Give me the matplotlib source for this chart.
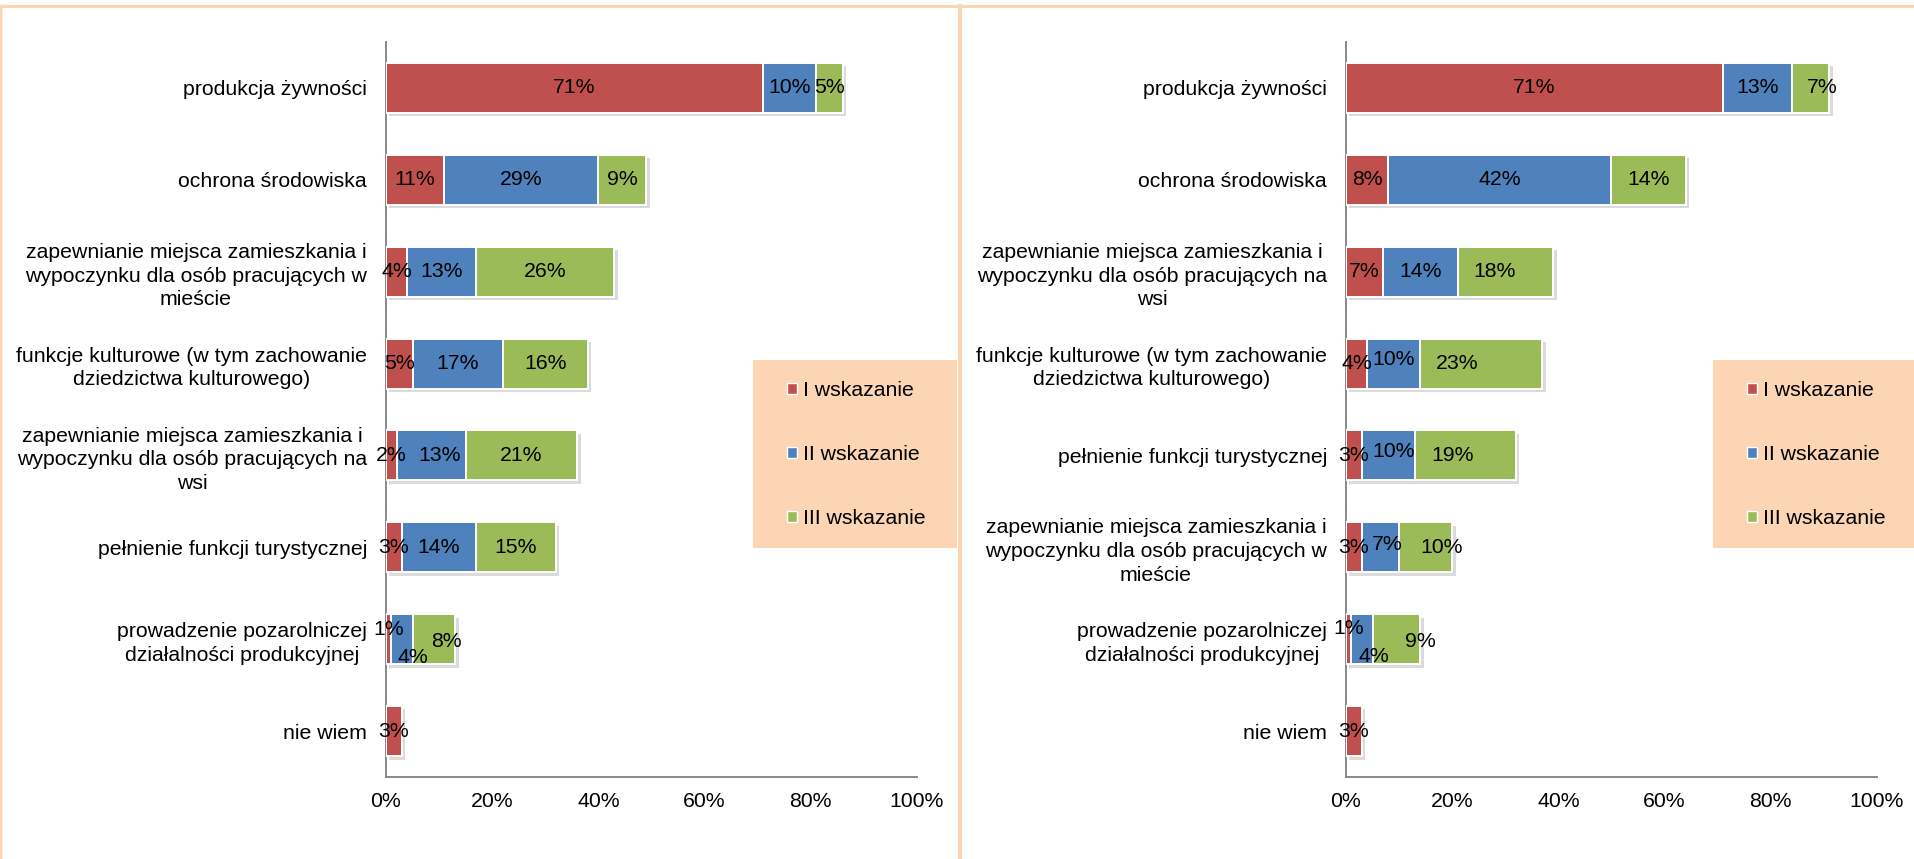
import matplotlib
matplotlib.use("Agg")
import matplotlib.pyplot as plt
from matplotlib import patheffects as pe
from matplotlib.patches import Rectangle
from matplotlib.lines import Line2D

plt.rcParams['font.family'] = ['Liberation Sans', 'DejaVu Sans']

# ---------------- data ----------------
series_names = ["I wskazanie", "II wskazanie", "III wskazanie"]
colors = ["#C0504D", "#4F81BD", "#9BBB59"]

left_categories = [
    "produkcja żywności",
    "ochrona środowiska",
    "zapewnianie miejsca zamieszkania i\nwypoczynku dla osób pracujących w\nmieście",
    "funkcje kulturowe (w tym zachowanie\ndziedzictwa kulturowego)",
    "zapewnianie miejsca zamieszkania i\nwypoczynku dla osób pracujących na\nwsi",
    "pełnienie funkcji turystycznej",
    "prowadzenie pozarolniczej\ndziałalności produkcyjnej",
    "nie wiem",
]
left_I = [71, 11, 4, 5, 2, 3, 1, 3]
left_II = [10, 29, 13, 17, 13, 14, 4, 0]
left_III = [5, 9, 26, 16, 21, 15, 8, 0]

right_categories = [
    "produkcja żywności",
    "ochrona środowiska",
    "zapewnianie miejsca zamieszkania i\nwypoczynku dla osób pracujących na\nwsi",
    "funkcje kulturowe (w tym zachowanie\ndziedzictwa kulturowego)",
    "pełnienie funkcji turystycznej",
    "zapewnianie miejsca zamieszkania i\nwypoczynku dla osób pracujących w\nmieście",
    "prowadzenie pozarolniczej\ndziałalności produkcyjnej",
    "nie wiem",
]
right_I = [71, 8, 7, 4, 3, 3, 1, 3]
right_II = [13, 42, 14, 10, 10, 7, 4, 0]
right_III = [7, 14, 18, 23, 19, 10, 9, 0]

x_ticks = [0, 20, 40, 60, 80, 100]
x_tick_labels = ["0%", "20%", "40%", "60%", "80%", "100%"]

# label nudges in pixels (dx right, dy down) for crowded labels
left_nudges = {(6, 0): (0, -10), (6, 1): (11, 18), (6, 2): (13, 2), (4, 1): (8, 0)}
right_nudges = {(6, 0): (0, -11), (6, 1): (12, 17), (6, 2): (24, 2), (3, 1): (0, -4),
                (3, 2): (-24, 0), (2, 2): (-11, 0), (4, 1): (5, -4), (4, 2): (-13, 0),
                (5, 1): (7, -3), (5, 2): (16, 0), (0, 2): (12, 0)}

# ---------------- layout ----------------
W, H = 1915, 859
DPI = 100
FS = 15.3
PEACH = "#FCD5B4"
fig = plt.figure(figsize=(W / DPI, H / DPI), dpi=DPI)
fig.patch.set_facecolor("white")

px2pt = 72.0 / DPI


def draw_panel(ax_left_px, cats, vals, nudges):
    ax = fig.add_axes([ax_left_px / W, 1 - 777 / H, 531 / W, (777 - 42) / H])
    n = len(cats)
    ypos = list(range(n))
    lefts = [0] * n
    bars = []
    shadow = [pe.SimplePatchShadow(offset=(2.5, -2.5), shadow_rgbFace="#9a9a9a", alpha=0.35),
              pe.Normal()]
    for s, (series, col, name) in enumerate(zip(vals, colors, series_names)):
        b = ax.barh(ypos, series, left=lefts, height=0.545, color=col,
                    edgecolor="white", linewidth=1.4, label=name, zorder=3)
        for p in b.patches:
            p.set_path_effects(shadow)
        bars.append(b)
        for i, v in enumerate(series):
            if v > 0:
                dx, dy = nudges.get((i, s), (0, 0))
                ax.annotate(f"{v}%", (lefts[i] + v / 2, i),
                            xytext=(dx * px2pt, -dy * px2pt), textcoords="offset points",
                            ha="center", va="center", fontsize=FS, color="black", zorder=5)
        lefts = [l + v for l, v in zip(lefts, series)]
    ax.set_xlim(0, 100)
    ax.set_ylim(n - 0.5, -0.5)
    ax.set_yticks(ypos)
    ax.set_yticklabels(cats, fontsize=FS, linespacing=1.32, multialignment="center")
    ax.set_xticks(x_ticks)
    ax.set_xticklabels(x_tick_labels, fontsize=FS)
    ax.tick_params(axis="y", length=0, pad=19 * px2pt)
    ax.tick_params(axis="x", length=0, pad=15 * px2pt)
    for sp in ["top", "right"]:
        ax.spines[sp].set_visible(False)
    for sp in ["left", "bottom"]:
        ax.spines[sp].set_color("#8a8a8a")
        ax.spines[sp].set_linewidth(1.4)
    ax.set_facecolor("none")
    return ax, bars


axL, barsL = draw_panel(386, left_categories, [left_I, left_II, left_III], left_nudges)
axR, barsR = draw_panel(1346, right_categories, [right_I, right_II, right_III], right_nudges)

# legend backgrounds and legends
for (x0, x1), bars in [((753, 957), barsL), ((1713, 1915), barsR)]:
    fig.patches.append(Rectangle((x0 / W, 1 - 548 / H), (x1 - x0) / W, (548 - 360) / H,
                                 transform=fig.transFigure, facecolor=PEACH,
                                 edgecolor="none", zorder=0))
    leg = fig.legend(handles=bars, labels=series_names, loc="upper left",
                     bbox_to_anchor=((x0 + 34) / W, 1 - 381 / H), frameon=False,
                     fontsize=FS, handlelength=0.45, handleheight=0.45,
                     handletextpad=0.3, labelspacing=2.12, borderpad=0,
                     borderaxespad=0)
    for h in leg.legend_handles:
        h.set_edgecolor("white")
        h.set_linewidth(1.0)
        h.set_path_effects([])

# figure borders
fig.add_artist(Line2D([0, 1], [1 - 5.5 / H, 1 - 5.5 / H], transform=fig.transFigure,
                      color=PEACH, linewidth=3 * px2pt, zorder=10))
fig.add_artist(Line2D([1 / W, 1 / W], [0, 1 - 5.5 / H], transform=fig.transFigure,
                      color=PEACH, linewidth=2.5 * px2pt, zorder=10))
fig.add_artist(Line2D([960 / W, 960 / W], [0, 1 - 5.5 / H], transform=fig.transFigure,
                      color=PEACH, linewidth=4 * px2pt, zorder=10))

fig.savefig("out.png", dpi=DPI, facecolor="white")
